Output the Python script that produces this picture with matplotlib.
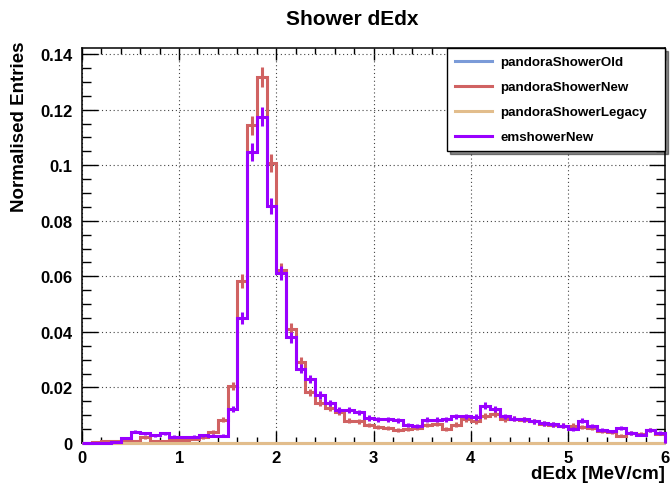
import numpy as np
import matplotlib.pyplot as plt
from matplotlib.lines import Line2D
from matplotlib.ticker import MultipleLocator, FuncFormatter

plt.rcParams['font.family'] = ['Liberation Sans', 'DejaVu Sans']
plt.rcParams['font.weight'] = 'bold'

# 60 bins of 0.1 MeV/cm between 0 and 6
edges = np.linspace(0.0, 6.0, 61)
n_entries = 10000  # entries per sample, used for the Poisson error bars

pandora_old = np.zeros(60)
pandora_legacy = np.zeros(60)

pandora_new = np.array([
    0.0000, 0.0003, 0.0007, 0.0008, 0.0008, 0.0008, 0.0020, 0.0007, 0.0009, 0.0011,
    0.0012, 0.0013, 0.0020, 0.0040, 0.0083, 0.0206, 0.0583, 0.1144, 0.1318, 0.1008,
    0.0624, 0.0411, 0.0291, 0.0182, 0.0145, 0.0125, 0.0110, 0.0080, 0.0078, 0.0064,
    0.0057, 0.0054, 0.0048, 0.0052, 0.0054, 0.0064, 0.0068, 0.0051, 0.0066, 0.0086,
    0.0078, 0.0098, 0.0105, 0.0086, 0.0087, 0.0084, 0.0078, 0.0070, 0.0066, 0.0063,
    0.0063, 0.0058, 0.0054, 0.0042, 0.0040, 0.0027, 0.0036, 0.0034, 0.0046, 0.0034,
])

emshower_new = np.array([
    0.0000, 0.0000, 0.0000, 0.0002, 0.0018, 0.0041, 0.0035, 0.0028, 0.0035, 0.0023,
    0.0022, 0.0023, 0.0028, 0.0026, 0.0027, 0.0121, 0.0451, 0.1048, 0.1174, 0.0852,
    0.0611, 0.0381, 0.0267, 0.0230, 0.0173, 0.0144, 0.0120, 0.0118, 0.0110, 0.0090,
    0.0086, 0.0086, 0.0082, 0.0064, 0.0060, 0.0084, 0.0084, 0.0086, 0.0096, 0.0096,
    0.0093, 0.0135, 0.0122, 0.0096, 0.0088, 0.0085, 0.0078, 0.0071, 0.0067, 0.0063,
    0.0052, 0.0080, 0.0060, 0.0046, 0.0042, 0.0054, 0.0036, 0.0030, 0.0046, 0.0036,
])

labels = ['pandoraShowerOld', 'pandoraShowerNew', 'pandoraShowerLegacy', 'emshowerNew']
colors = ['#7b9bd8', '#d06262', '#e2bd8c', '#9900ff']
series = [pandora_old, pandora_new, pandora_legacy, emshower_new]

fig = plt.figure(figsize=(6.7, 4.85), dpi=100)
ax = fig.add_axes([82 / 670, 1 - 444 / 485, 583 / 670, 395 / 485])

centers = 0.5 * (edges[:-1] + edges[1:])
ymax = 0.0
for vals, col in zip(series, colors):
    errs = np.sqrt(vals / n_entries)
    ax.stairs(vals, edges, color=col, lw=2.2, clip_on=False, zorder=3)
    if vals.max() > 0:
        ax.errorbar(centers, vals, yerr=errs, fmt='none', ecolor=col,
                    elinewidth=2.2, capsize=0, zorder=3)
    ymax = max(ymax, (vals + errs).max())

ax.set_xlim(0, 6)
ax.set_ylim(0, 1.05 * ymax)

ax.xaxis.set_major_locator(MultipleLocator(1))
ax.xaxis.set_minor_locator(MultipleLocator(0.2))
ax.yaxis.set_major_locator(MultipleLocator(0.02))
ax.yaxis.set_minor_locator(MultipleLocator(0.005))
ax.yaxis.set_major_formatter(FuncFormatter(lambda v, p: '%g' % round(v, 4)))

ax.tick_params(axis='both', which='both', direction='in', top=True, right=True,
               width=1.0, labelsize=12)
ax.tick_params(axis='x', which='major', length=8.6, pad=5)
ax.tick_params(axis='x', which='minor', length=4.3)
ax.tick_params(axis='y', which='major', length=11.5, pad=7)
ax.tick_params(axis='y', which='minor', length=6.2)
for sp in ax.spines.values():
    sp.set_linewidth(1.1)

ax.grid(True, which='major', color='#444444', linestyle=(0, (1, 2.5)), lw=0.8)

ax.set_xlabel('dEdx [MeV/cm]', fontsize=13.5, fontweight='bold', loc='right')
ax.xaxis.set_label_coords(1.0, -0.056)
ax.set_ylabel('Normalised Entries', fontsize=13.5, fontweight='bold', loc='top')
ax.yaxis.set_label_coords(-0.092, 1.02)

fig.text(0.525, 0.96, 'Shower dEdx', ha='center', va='center',
         fontsize=15, fontweight='bold')

# legend box spans from x=3.76 to the right edge, stretched to that width
handles = [Line2D([], [], color=c, lw=2.2) for c in colors]
leg = ax.legend(handles, labels, loc='upper right',
                bbox_to_anchor=(0.626, 0.75, 0.374, 0.25), mode='expand',
                borderaxespad=0, fontsize=9.6, handlelength=2.8,
                handletextpad=0.6, labelspacing=0.95, borderpad=0.6,
                fancybox=False, framealpha=1, edgecolor='black',
                shadow={'color': 'black', 'alpha': 0.45})
leg.get_frame().set_linewidth(1.0)
for t in leg.get_texts():
    t.set_fontweight('bold')

fig.savefig('out.png', dpi=100)
